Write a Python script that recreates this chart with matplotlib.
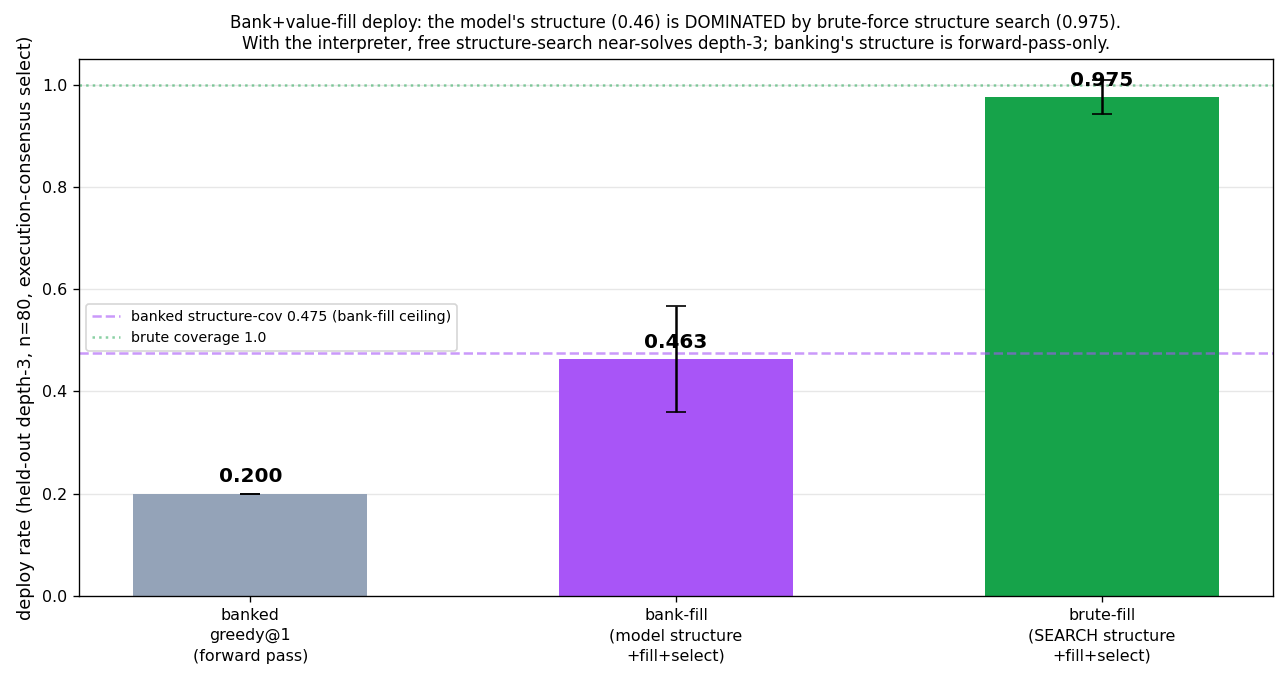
import matplotlib
matplotlib.use("Agg")
import matplotlib.pyplot as plt
import numpy as np

labels = ["banked\ngreedy@1\n(forward pass)",
          "bank-fill\n(model structure\n+fill+select)",
          "brute-fill\n(SEARCH structure\n+fill+select)"]
rates = [0.200, 0.463, 0.975]
errs = [0.0, 0.104, 0.033]
colors = ["#94a3b8", "#a855f7", "#16a34a"]

bank_cov = 0.475
brute_cov = 1.0

fig, ax = plt.subplots(figsize=(1286 / 120, 680 / 120), dpi=120)
x = np.arange(len(rates))
ax.bar(x, rates, width=0.55, color=colors, zorder=2)
ax.errorbar(x, rates, yerr=errs, fmt="none", ecolor="black", capsize=6, elinewidth=1.5, zorder=3)

for xi, v in zip(x, rates):
    ax.text(xi, v + 0.015, f"{v:.3f}", ha="center", va="bottom", fontsize=12, fontweight="bold", zorder=4)

ax.axhline(bank_cov, color="#a855f7", alpha=0.6, linestyle="--", linewidth=1.5,
           label=f"banked structure-cov {bank_cov} (bank-fill ceiling)")
ax.axhline(brute_cov, color="#16a34a", alpha=0.5, linestyle=":", linewidth=1.5,
           label=f"brute coverage {brute_cov}")

ax.set_xticks(x)
ax.set_xticklabels(labels, fontsize=9.5, linespacing=1.45)
ax.tick_params(axis="y", labelsize=9.5)
ax.set_ylim(0, 1.05)
ax.set_ylabel("deploy rate (held-out depth-3, n=80, execution-consensus select)", fontsize=10.6)
ax.set_title("Bank+value-fill deploy: the model's structure (0.46) is DOMINATED by brute-force structure search (0.975).\n"
             "With the interpreter, free structure-search near-solves depth-3; banking's structure is forward-pass-only.",
             fontsize=10)
ax.grid(axis="y", alpha=0.3, zorder=0)
ax.set_axisbelow(True)
ax.legend(loc="center left", fontsize=8.5)

fig.subplots_adjust(left=79 / 1286, right=1273 / 1286, top=1 - 59 / 680, bottom=1 - 596 / 680)
plt.savefig("out.png", dpi=120)
